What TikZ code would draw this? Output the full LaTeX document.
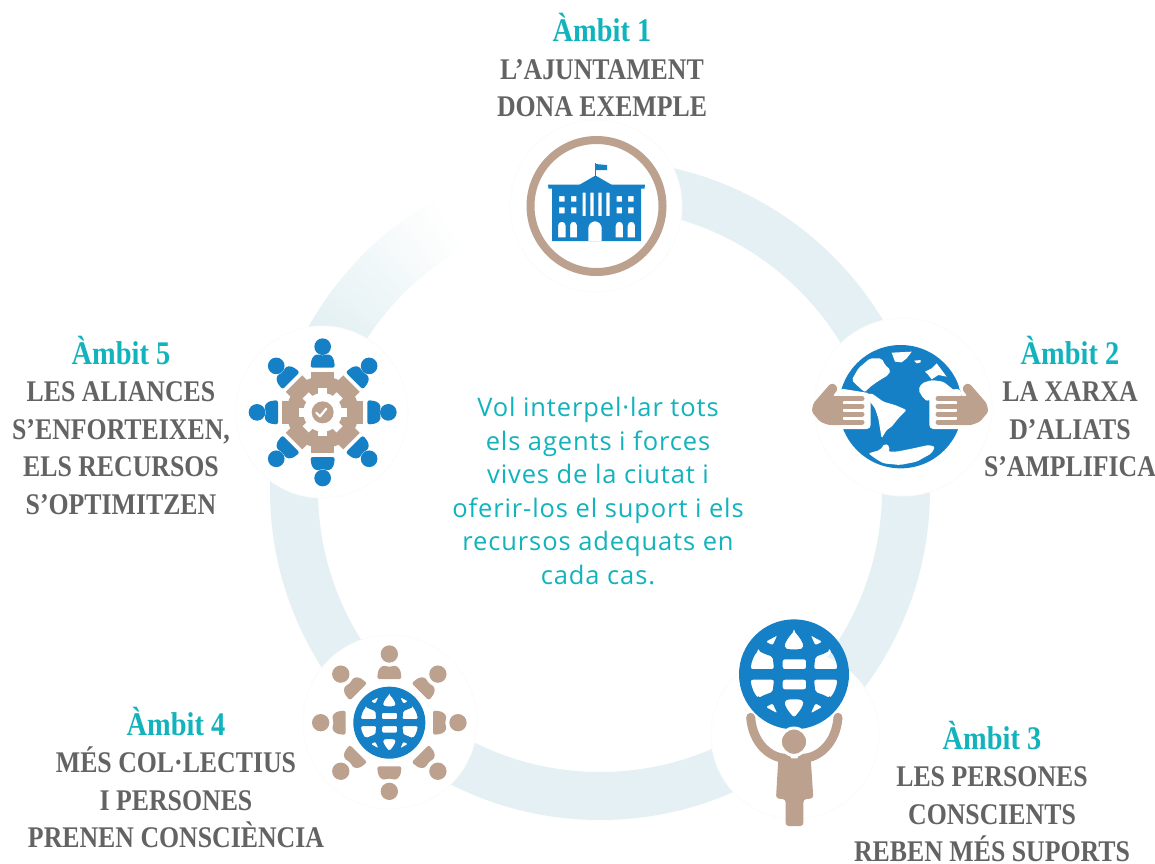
\documentclass[tikz,border=0pt]{standalone}
\usepackage{fontspec}
\setmainfont{Liberation Serif}
\newfontfamily\labelfont[FakeStretch=0.86]{Liberation Serif Bold}
\newfontfamily\bodyfont[LetterSpace=3.5]{Open Sans}
\definecolor{ringc}{HTML}{E4F0F3}
\definecolor{iconblue}{HTML}{1580C5}
\definecolor{icontan}{HTML}{BCA18F}
\definecolor{headteal}{HTML}{11B3BC}
\definecolor{labelgrey}{HTML}{636363}
\definecolor{halogrey}{HTML}{FBFBFB}
\tikzset{
  halo/.style={fill=white,draw=halogrey,line width=0.8pt},
  ambit/.style={align=center,inner sep=0pt,text=labelgrey,
    font=\labelfont\fontsize{30}{37.5}\selectfont},
  centre text/.style={align=center,inner sep=0pt,text=headteal,
    font=\bodyfont\fontsize{25.5}{33.6}\selectfont}
}
\newcommand{\hd}[1]{{\fontsize{33}{37.5}\selectfont\color{headteal}#1}}
% grid globe, radius 165 units, panes see-through
\newcommand{\gridglobe}[2]{%
  \fill[#1,even odd rule,rounded corners=#2] (0,0) circle (165)
   foreach \sy in {1,-1}{
     (0,\sy*-130) .. controls (18,\sy*-110) and (28,\sy*-95) .. (28,\sy*-78) .. controls (10,\sy*-74) and (-10,\sy*-74) .. (-28,\sy*-78) .. controls (-28,\sy*-95) and (-18,\sy*-110) .. (0,\sy*-130) -- cycle
     (-34,\sy*-45) -- (36,\sy*-45) -- (36,\sy*-16) -- (-34,\sy*-16) -- cycle
     foreach \sx in {1,-1}{
       (\sx*-85,\sy*-98) -- (\sx*-50,\sy*-117) -- (\sx*-64,\sy*-87) -- cycle
       (\sx*-107,\sy*-71) .. controls (\sx*-90,\sy*-62) .. (\sx*-64,\sy*-53) -- (\sx*-60,\sy*-16) -- (\sx*-130,\sy*-16) .. controls (\sx*-128,\sy*-40) and (\sx*-118,\sy*-60) .. (\sx*-107,\sy*-71) -- cycle
     }
   };}
\newcommand{\seatedperson}[3]{% colour, body start radius, rotation
  \begin{scope}[rotate=#3]
  \fill[#1,rounded corners=2.5] (-37,-#2) -- (-33,-#2-28) -- (-20,-#2-41) -- (0,-#2-36) -- (20,-#2-41) -- (33,-#2-28) -- (37,-#2) -- cycle;
  \end{scope}}
\newcommand{\handshape}{%
  \fill[white,rounded corners=4] (118,175) -- (212,190) -- (212,297) -- (110,297) -- cycle;
  \fill[white] (100,165) circle (24);
  \fill[icontan,rounded corners=2.5] (92,160) -- (108,164) -- (113,180) -- (97,198) -- (130,198) -- (130,285) -- (85,285) -- (60,275) -- (35,245) -- (40,220) -- cycle;
  \foreach \yy in {206,229,252,276}{\draw[icontan,line width=5,line cap=round] (125,\yy) -- (186,\yy);}
  \foreach \yy in {217.5,240.5,264}{\draw[white,line width=2] (130,\yy) -- (200,\yy);}
}
\begin{document}
\begin{tikzpicture}[x=1pt,y=-1pt]
\useasboundingbox (0,0) rectangle (1155,863);
\fill[white] (0,0) rectangle (1155,863);
% ring
\fill[ringc,even odd rule] (600,490) circle (330) (600,490) circle (282);
\begin{scope}[shift={(600,490)}]
\fill[white] (-119:334) arc[start angle=-119,end angle=-85,radius=334] -- (-85:278) arc[start angle=-85,end angle=-119,radius=278] -- cycle;
\foreach \a in {152,151,...,120}{
  \pgfmathtruncatemacro{\p}{max(0,min(100,(\a-120)/30*100))}
  \fill[ringc!\p!white] (-\a:334) arc[start angle=-\a,end angle=-\a+1.3,radius=334] -- (-\a+1.3:278) arc[start angle=-\a+1.3,end angle=-\a,radius=278] -- cycle;
}
\end{scope}
% halos
\path[halo] (596,206) circle (86);
\path[halo] (903,407) circle (89);
\path[halo] (795,735) circle (84);
\path[halo] (390,722) circle (87);
\path[halo] (322,412) circle (86);
% Icon 1: town hall
\draw[icontan,line width=8] (596.5,206) circle (66);
\begin{scope}
\fill[iconblue] (595,163) rectangle (596.3,178);
\fill[iconblue] (595,164) -- (607,165) -- (607,170) -- (595,170) -- cycle;
\fill[iconblue] (579,185) -- (595.5,175.5) -- (612,185) -- cycle;
\fill[iconblue] (548,184.5) -- (645,184.5) -- (644.5,188.5) -- (548.5,188.5) -- cycle;
\fill[iconblue,even odd rule] (552,188) rectangle (641,241)
  (559,196) rectangle (564.5,201.7) (571,196) rectangle (576.3,201.7)
  (616.7,196) rectangle (622,201.7) (628,196) rectangle (633.7,201.7)
  (559,207.3) rectangle (564.5,213.3) (571,207.3) rectangle (576.3,213.3)
  (616.7,207.3) rectangle (622,213.3) (628,207.3) rectangle (633.7,213.3)
  (582.7,192.7) rectangle (585.7,216) (590.3,192.7) rectangle (593.7,216)
  (598.3,192.7) rectangle (601.7,216) (606.3,192.7) rectangle (609.7,216)
  (558,237.3) -- (558,225.5) arc[start angle=180,end angle=0,x radius=3.85,y radius=-3.8] -- (565.7,237.3) -- cycle
  (570,237.3) -- (570,225.5) arc[start angle=180,end angle=0,x radius=3.5,y radius=-3.8] -- (577,237.3) -- cycle
  (615.7,237.3) -- (615.7,225.5) arc[start angle=180,end angle=0,x radius=3.65,y radius=-3.8] -- (623,237.3) -- cycle
  (627.7,237.3) -- (627.7,225.5) arc[start angle=180,end angle=0,x radius=3.65,y radius=-3.8] -- (635,237.3) -- cycle
  (588.3,241) -- (588.3,228) arc[start angle=180,end angle=0,x radius=6.7,y radius=-6.7] -- (601.7,241) -- cycle;
\end{scope}
% Icon 2: earth and hands
\begin{scope}[shift={(800,330)},scale=1/3]
\fill[iconblue] (302,230) circle (185);
\fill[white,rounded corners=2] (155,150) -- (175,115) -- (210,85) -- (245,85) -- (255,105) -- (272,120) -- (265,135) -- (240,150) -- (225,160) -- (205,175) -- (195,187) -- (175,170) -- cycle;
\fill[white] (275,68) -- (335,65) -- (320,85) -- (305,97) -- (285,95) -- cycle;
\fill[white] (342,92) -- (362,90) -- (362,97) -- (350,100) -- cycle;
\fill[white] (375,125) -- (395,115) -- (410,100) -- (425,120) -- (440,140) -- (415,135) -- (395,148) -- (385,135) -- cycle;
\fill[white,rounded corners=2] (355,180) -- (365,160) -- (395,150) -- (430,155) -- (455,175) -- (468,185) -- (440,197) -- (415,200) -- (395,205) -- (385,215) -- (370,205) -- cycle;
\fill[white,rounded corners=1.5] (195,195) -- (215,190) -- (250,215) -- (285,225) -- (320,240) -- (295,265) -- (275,290) -- (260,300) -- (245,325) -- (240,295) -- (235,265) -- (225,235) -- (210,215) -- cycle;
\fill[white,rounded corners=2] (205,370) -- (240,360) -- (255,340) -- (270,350) -- (265,365) -- (290,365) -- (340,355) -- (385,345) -- (405,350) -- (395,370) -- (350,395) -- (300,405) -- (250,400) -- (225,385) -- cycle;
\handshape
\begin{scope}[shift={(600,0)},xscale=-1]\handshape\end{scope}
\end{scope}
% Icon 3: person holding the world
\begin{scope}[shift={(720,610)},scale=1/3]
\begin{scope}[shift={(222,193)}]\gridglobe{iconblue}{2}\end{scope}
\draw[icontan,line width=9,line cap=round] (92,322) .. controls (98,400) and (150,445) .. (200,445);
\draw[icontan,line width=9,line cap=round] (354,322) .. controls (348,400) and (296,445) .. (246,445);
\fill[icontan,rounded corners=3] (175,445) -- (272,445) -- (280,565) -- (250,568) -- (250,648) -- (197,648) -- (197,568) -- (168,565) -- cycle;
\draw[white,line width=3,fill=icontan] (222,395) circle (41);
\end{scope}
% Icon 4: people around the world
\begin{scope}[shift={(300,630)},scale=1/3]
\begin{scope}[shift={(268,278)}]
\foreach \r in {0,45,...,315}{
  \seatedperson{icontan}{131}{\r}
  \fill[icontan] (\r-90:206) circle (26);
}
\begin{scope}[scale=0.655]\gridglobe{iconblue}{1.2}\end{scope}
\end{scope}
\end{scope}
% Icon 5: people around a gear
\begin{scope}[shift={(240,330)},scale=1/3]
\begin{scope}[shift={(248,247)}]
\foreach \r in {0,45,...,315}{
  \seatedperson{iconblue}{134}{\r}
  \fill[iconblue] (\r-90:197) circle (25);
  \fill[icontan,rotate=\r] (-35,-122) rectangle (35,0);
}
\fill[icontan] (0,0) circle (108);
\fill[white] (0,0) circle (58);
\foreach \r in {0,45,...,315}{\fill[white,rotate=\r] (-13,-72) rectangle (13,-50);}
\fill[icontan] (0,0) circle (33);
\draw[white,line width=2.2,line cap=round,line join=round] (-19,1) -- (-8,12) -- (11,-11);
\end{scope}
\end{scope}
% labels
\node[ambit] (a1) at (602,65) {\hd{Àmbit 1}\\L’AJUNTAMENT\\DONA EXEMPLE};
\node[ambit] (a2) at (1070,406.5) {\hd{Àmbit 2}\\LA XARXA\\D’ALIATS\\S’AMPLIFICA};
\node[ambit] (a3) at (992,791.5) {\hd{Àmbit 3}\\LES PERSONES\\CONSCIENTS\\REBEN MÉS SUPORTS};
\node[ambit] (a4) at (176,777.5) {\hd{Àmbit 4}\\MÉS COL·LECTIUS\\I PERSONES\\PRENEN CONSCIÈNCIA};
\node[ambit] (a5) at (121,425) {\hd{Àmbit 5}\\LES ALIANCES\\S’ENFORTEIXEN,\\ELS RECURSOS\\S’OPTIMITZEN};
\node[centre text] (cc) at (598,491) {Vol interpel·lar tots\\els agents i forces\\vives de la ciutat i\\oferir-los el suport i els\\recursos adequats en\\cada cas.};
\end{tikzpicture}
\end{document}
